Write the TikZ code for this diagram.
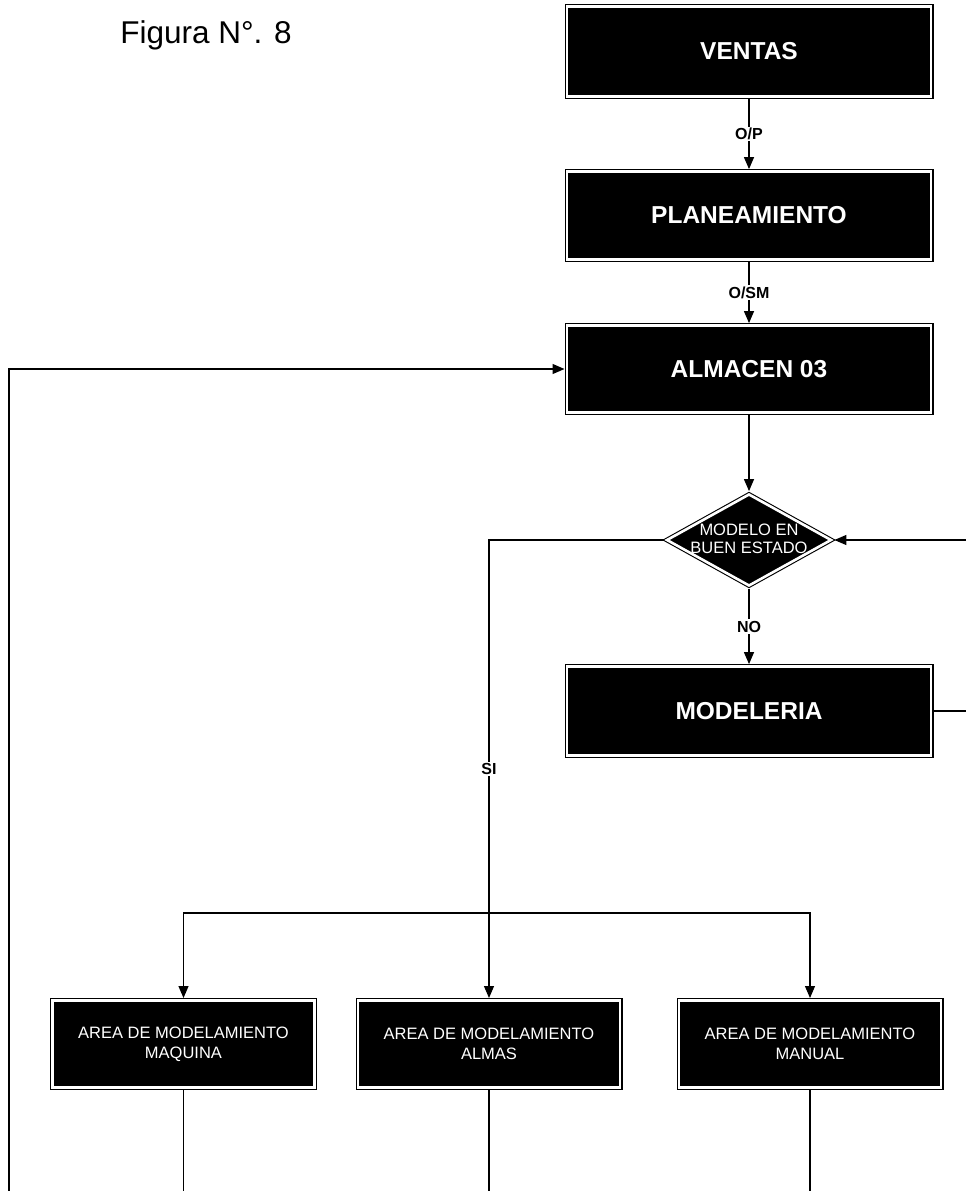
\documentclass[tikz,border=0pt]{standalone}
\usepackage{fontspec}
\setmainfont{Liberation Sans}
\usetikzlibrary{arrows.meta,shapes.geometric}
\begin{document}
\begin{tikzpicture}[x=1pt,y=-1pt,
  box/.style={rectangle, draw=black, line width=1.1pt, double=white,
    double distance=2.6pt, fill=black, text=white, inner sep=0pt, outer sep=2.4pt},
  bigbox/.style={box, minimum width=364.2pt,
    font=\bfseries\fontsize{24.5}{28}\selectfont},
  areabox/.style={box, minimum width=262.2pt, minimum height=87.2pt,
    align=center, font=\fontsize{16.5}{20}\selectfont},
  decision/.style={diamond, draw=black, line width=1.1pt, double=white,
    double distance=2.6pt, fill=black, inner sep=0pt, outer sep=2.4pt,
    minimum width=166pt, minimum height=93pt},
  dectxt/.style={text=white, align=center, inner sep=0pt,
    font=\fontsize{16.5}{18}\selectfont},
  conn/.style={line width=1.2pt},
  arr/.style={conn, -{Triangle[length=12pt,width=10pt]}},
  lbl/.style={fill=white, inner sep=1.5pt, font=\bfseries\fontsize{16}{19}\selectfont}
]
\useasboundingbox (0,0) rectangle (966,1191);

% title
\node[anchor=base, font=\fontsize{31.5}{36}\selectfont] (title) at (206,43.5) {Figura N°. 8};

% main column
\node[bigbox, minimum height=90pt] (ventas) at (749,51.5) {VENTAS};
\node[bigbox, minimum height=88pt] (plan) at (749,215.5) {PLANEAMIENTO};
\node[bigbox, minimum height=87pt] (alm) at (749,369) {ALMACEN 03};
\node[decision] (dec) at (749,540) {};
\node[dectxt] (dectext) at (749,539) {MODELO EN\\BUEN ESTADO};
\node[bigbox, minimum height=89pt] (mod) at (749,711) {MODELERIA};

% modelling areas
\node[areabox] (maq) at (183.5,1044) {AREA DE MODELAMIENTO\\MAQUINA};
\node[areabox] (almas) at (489,1044) {AREA DE MODELAMIENTO\\ALMAS};
\node[areabox] (man) at (810,1044) {AREA DE MODELAMIENTO\\MANUAL};

% helper points
\coordinate (split) at (489,913);
\coordinate (rjoin) at (982,620);
\coordinate (loopc) at (9,1191.6);

% connectors
\draw[arr] (ventas) -- node[lbl]{O/P} (plan);
\draw[arr] (plan) -- node[lbl]{O/SM} (alm);
\draw[arr] (alm) -- (dec);
\draw[arr] (dec) -- node[lbl]{NO} (mod);
\draw[arr] (mod.east) -| (rjoin) |- (dec.east);
\draw[arr] (dec.west) -| node[lbl, pos=0.75]{SI} (almas.north);
\draw[arr] (split) -| (maq.north);
\draw[arr] (split) -| (man.north);

% return lines to the warehouse
\draw[conn] (maq.south) -- (maq.south |- loopc);
\draw[conn] (almas.south) -- (almas.south |- loopc);
\draw[arr] (man.south) |- (loopc) |- (alm.west);
\end{tikzpicture}
\end{document}
